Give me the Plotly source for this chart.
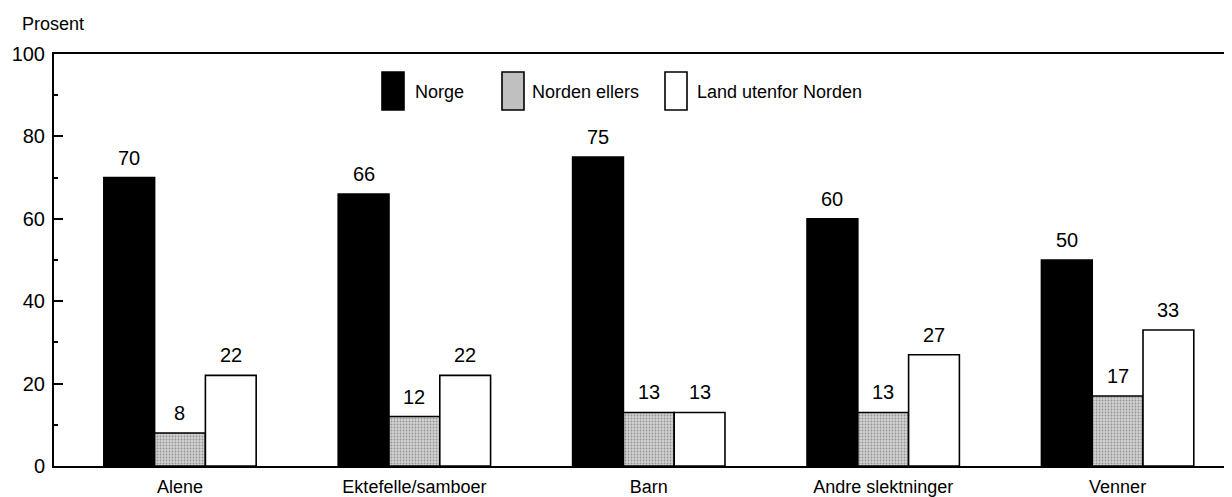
import plotly.graph_objects as go

categories = ["Alene", "Ektefelle/samboer", "Barn", "Andre slektninger", "Venner"]
series_names = ["Norge", "Norden ellers", "Land utenfor Norden"]
norge = [70, 66, 75, 60, 50]
norden_ellers = [8, 12, 13, 13, 17]
land_utenfor = [22, 22, 13, 27, 33]
y_ticks = [0, 20, 40, 60, 80, 100]
y_title = "Prosent"

FONT = "Liberation Sans, Arial, sans-serif"
FS_NUM = 20
FS_TXT = 18
FS_LEG = 18
# the page adds an 8px body margin, so the figure is sized/offset to compensate
OFF = 8
W, H = 1232 - OFF, 497 - OFF
ML, MR, MT, MB = 54 - OFF, 0, 54 - OFF, 31
BARGAP = 0.35

series = [norge, norden_ellers, land_utenfor]
x_idx = list(range(len(categories)))

fig = go.Figure()
styles = [
    dict(color="black"),
    dict(color="#c0c0c0", pattern=dict(shape=".", fgcolor="#555555", bgcolor="#d2d2d2",
                                       size=3, solidity=0.3, fillmode="overlay")),
    dict(color="white"),
]
for name, vals, st in zip(series_names, series, styles):
    fig.add_trace(go.Bar(
        x=x_idx, y=vals, name=name,
        marker=dict(**st, line=dict(color="black", width=1.6)),
        showlegend=False,
    ))

# value labels
bw = (1 - BARGAP) / len(series)
for j, vals in enumerate(series):
    off = (j - (len(series) - 1) / 2) * bw
    for i, v in enumerate(vals):
        fig.add_annotation(x=i + off, y=v, text=str(v), showarrow=False,
                           xref="x", yref="y", yanchor="bottom", yshift=7,
                           font=dict(family=FONT, size=FS_NUM, color="black"))

# custom legend (tall boxes); coordinates given in page pixels
pw, ph = W - ML - MR, H - MT - MB
def px(x):
    return (x - OFF - ML) / pw
def py(y):
    return (H - MB - (y - OFF)) / ph

legend_items = [
    (382, 413, "black"),
    (502, 530, "#c0c0c0"),
    (665, 695, "white"),
]
for (x0, tx, fc), name in zip(legend_items, series_names):
    fig.add_shape(type="rect", xref="paper", yref="paper",
                  x0=px(x0), x1=px(x0 + 22), y0=py(110), y1=py(72),
                  fillcolor=fc, line=dict(color="black", width=1.6))
    fig.add_annotation(xref="paper", yref="paper", x=px(tx), y=py(92),
                       text=name, showarrow=False, xanchor="left", yanchor="middle",
                       font=dict(family=FONT, size=FS_LEG, color="black"))

fig.add_annotation(xref="paper", yref="paper", x=px(20), y=py(24),
                   text=y_title, showarrow=False, xanchor="left", yanchor="middle",
                   font=dict(family=FONT, size=FS_TXT, color="black"))

fig.update_layout(
    width=W, height=H,
    margin=dict(l=ML, r=MR, t=MT, b=MB, pad=0, autoexpand=False),
    paper_bgcolor="white", plot_bgcolor="white",
    barmode="group", bargap=BARGAP, bargroupgap=0,
    font=dict(family=FONT, size=FS_NUM, color="black"),
    xaxis=dict(range=[-0.5375, 4.488], tickvals=x_idx, ticktext=categories,
               showline=True, linecolor="black", linewidth=2, mirror=True,
               showgrid=False, zeroline=False, ticks="", ticklabelstandoff=3,
               automargin=False, tickfont=dict(family=FONT, size=FS_TXT)),
    yaxis=dict(range=[0, 100], tickvals=y_ticks, showline=True, linecolor="black",
               linewidth=2, showgrid=False, zeroline=False, ticks="inside",
               ticklen=9, tickwidth=2, tickcolor="black", ticklabelstandoff=3,
               automargin=False,
               minor=dict(tickvals=[10, 30, 50, 70, 90], ticks="inside", ticklen=4,
                          tickwidth=2, tickcolor="black", showgrid=False),
               tickfont=dict(family=FONT, size=FS_NUM)),
)

fig.write_html("out.html")
